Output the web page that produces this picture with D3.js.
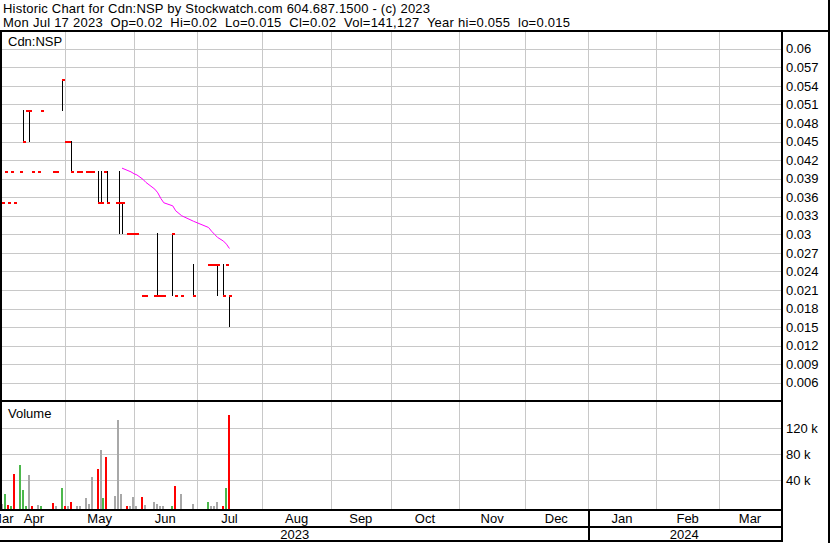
<!DOCTYPE html>
<html><head><meta charset="utf-8">
<script src="https://cdn.jsdelivr.net/npm/d3@7"></script>
<style>
html,body{margin:0;padding:0;background:#fff;}
svg{display:block;}
text{font-family:"Liberation Sans",Arial,sans-serif;font-size:13px;fill:#000;}
</style></head><body>
<svg id="c" width="830" height="543"></svg>
<script>
// ---------- data ----------
const dates = ["2023-03-31","2023-04-03","2023-04-04","2023-04-05","2023-04-06","2023-04-10","2023-04-11","2023-04-12","2023-04-13","2023-04-14","2023-04-18","2023-04-19","2023-04-25","2023-04-26","2023-04-28","2023-05-01","2023-05-02","2023-05-03","2023-05-05","2023-05-08","2023-05-10","2023-05-11","2023-05-12","2023-05-16","2023-05-17","2023-05-18","2023-05-19","2023-05-24","2023-05-25","2023-05-26","2023-05-30","2023-05-31","2023-06-01","2023-06-02","2023-06-06","2023-06-07","2023-06-12","2023-06-13","2023-06-14","2023-06-15","2023-06-20","2023-06-21","2023-06-23","2023-06-29","2023-07-06","2023-07-07","2023-07-10","2023-07-11","2023-07-13","2023-07-14","2023-07-17"];
const high  = [0.035,0.04,0.035,0.04,0.035,0.04,0.05,0.05,0.05,0.04,0.04,0.05,0.04,0.04,0.055,0.045,0.045,0.045,0.04,0.04,0.04,0.04,0.04,0.04,0.04,0.04,0.04,0.035,0.04,0.035,0.03,0.03,0.03,0.03,0.02,0.02,0.02,0.03,0.02,0.02,0.03,0.02,0.02,0.025,0.025,0.025,0.025,0.025,0.025,0.025,0.02];
const low   = [0.035,0.04,0.035,0.04,0.035,0.04,0.045,0.05,0.045,0.04,0.04,0.05,0.04,0.04,0.05,0.045,0.045,0.04,0.04,0.04,0.04,0.04,0.04,0.035,0.035,0.04,0.035,0.035,0.03,0.03,0.03,0.03,0.03,0.03,0.02,0.02,0.02,0.02,0.02,0.02,0.02,0.02,0.02,0.02,0.025,0.025,0.025,0.02,0.02,0.025,0.015];
const close = [0.035,0.04,0.035,0.04,0.035,0.04,0.045,0.05,0.05,0.04,0.04,0.05,0.04,0.04,0.055,0.045,0.045,0.04,0.04,0.04,0.04,0.04,0.04,0.035,0.035,0.04,0.035,0.035,0.035,0.035,0.03,0.03,0.03,0.03,0.02,0.02,0.02,0.02,0.02,0.02,0.03,0.02,0.02,0.02,0.025,0.025,0.025,0.025,0.02,0.025,0.02];
const volume = [3500,19000,2000,1000,50000,63500,25000,1000,48000,500,2000,1000,5000,1000,28000,1000,1000,6500,500,300,13000,3500,45000,57000,86500,13000,76000,16000,133000,19000,500,500,14000,500,14000,2000,6500,3500,500,1000,1000,31000,19000,3000,6500,500,1000,6500,1000,28000,141127];
const maDates = ["2023-05-26","2023-05-30","2023-05-31","2023-06-01","2023-06-02","2023-06-06","2023-06-07","2023-06-12","2023-06-13","2023-06-14","2023-06-15","2023-06-20","2023-06-21","2023-06-23","2023-06-29","2023-07-06","2023-07-07","2023-07-10","2023-07-11","2023-07-13","2023-07-14","2023-07-17"];
const maValues = [0.0407,0.0403,0.0401,0.0398,0.0396,0.0389,0.0384,0.0373,0.0367,0.0358,0.0351,0.0346,0.0338,0.0330,0.0321,0.0311,0.0305,0.0300,0.0295,0.0289,0.0284,0.0277];
const priceTicks = [0.006,0.009,0.012,0.015,0.018,0.021,0.024,0.027,0.03,0.033,0.036,0.039,0.042,0.045,0.048,0.051,0.054,0.057,0.06];
const volumeTicks = [40000,80000,120000];
const monthStarts = ["2023-03-01","2023-04-01","2023-05-01","2023-06-01","2023-07-01","2023-08-01","2023-09-01","2023-10-01","2023-11-01","2023-12-01","2024-01-01","2024-02-01","2024-03-01","2024-04-01"];
const monthLabels = ["Mar","Apr","May","Jun","Jul","Aug","Sep","Oct","Nov","Dec","Jan","Feb","Mar"];
const yearStarts = ["2023-01-01","2024-01-01","2025-01-01"];
const yearLabels = ["2023","2024"];
const header1 = "Historic Chart for Cdn:NSP by Stockwatch.com 604.687.1500 - (c) 2023";
const header2 = "Mon Jul 17 2023  Op=0.02  Hi=0.02  Lo=0.015  Cl=0.02  Vol=141,127  Year hi=0.055  lo=0.015";

// ---------- trading-slot scale (weekdays; weekends fall on prior Friday) ----------
function wd(s){
  const days = Math.floor(Date.parse(s+"T00:00:00Z")/86400000);
  const t = days + 3; const w = Math.floor(t/7); const r = t - 7*w;
  return w*5 + Math.min(r,4);
}
const ref = wd("2023-03-31");
const slot = s => wd(s) - ref;

const L = 2, R = 781;
const PT = 32, PB = 400, VT = 402, VB = 509;
const x = d3.scaleLinear().domain([0, slot("2024-03-29")]).range([2.6, 778.7]);
const y = d3.scaleLinear().domain([0.006, 0.06]).range([382.7, 48.8]);
const yv = d3.scaleLinear().domain([0, 120000]).range([506.3, 428.3]);

const svg = d3.select("#c").attr("shape-rendering","crispEdges");
const defs = svg.append("defs");
defs.append("clipPath").attr("id","cp").append("rect").attr("x",L).attr("y",PT).attr("width",R-L).attr("height",PB-PT);
defs.append("clipPath").attr("id","cv").append("rect").attr("x",L).attr("y",VT).attr("width",R-L).attr("height",VB-VT);

const grid = "#c8c8c8";
// month gridlines
const gx = monthStarts.map(m => x(slot(m))).filter(v => v > L+2 && v < R-1);
[[PT,PB],[VT,VB]].forEach(([t,b]) => {
  svg.append("g").selectAll("line").data(gx).join("line")
    .attr("x1",d=>Math.round(d)+0.5).attr("x2",d=>Math.round(d)+0.5)
    .attr("y1",t).attr("y2",b).attr("stroke",grid).attr("stroke-width",1);
});
// price gridlines
svg.append("g").selectAll("line").data(priceTicks).join("line")
  .attr("x1",L).attr("x2",R).attr("y1",d=>Math.round(y(d))+0.5).attr("y2",d=>Math.round(y(d))+0.5)
  .attr("stroke",grid).attr("stroke-width",1);
svg.append("g").selectAll("line").data(volumeTicks).join("line")
  .attr("x1",L).attr("x2",R).attr("y1",d=>Math.round(yv(d))+0.5).attr("y2",d=>Math.round(yv(d))+0.5)
  .attr("stroke",grid).attr("stroke-width",1);

// volume bars
const volColor = (i) => i===0 ? "#a8a8a8" : (close[i] > close[i-1] ? "#4cb84c" : (close[i] < close[i-1] ? "#ff0000" : "#a8a8a8"));
svg.append("g").attr("clip-path","url(#cv)").selectAll("rect").data(dates).join("rect")
  .attr("x",(d)=>Math.round(x(slot(d))-1.6))
  .attr("width",2)
  .attr("y",(d,i)=>Math.round(yv(volume[i])))
  .attr("height",(d,i)=>VB - Math.round(yv(volume[i])))
  .attr("fill",(d,i)=>volColor(i));

// moving average
svg.append("path").attr("clip-path","url(#cp)")
  .datum(maDates.map((d,i)=>[x(slot(d)), y(maValues[i])]))
  .attr("d", d3.line()).attr("fill","none").attr("stroke","#ff00ff").attr("stroke-width",1)
  .attr("shape-rendering","auto");

// price bars
const pg = svg.append("g").attr("clip-path","url(#cp)");
pg.selectAll("rect.hl").data(dates.map((d,i)=>i).filter(i=>high[i]>low[i])).join("rect")
  .attr("class","hl")
  .attr("x",i=>Math.round(x(slot(dates[i]))-0.5)).attr("width",1)
  .attr("y",i=>Math.round(y(high[i]))-1)
  .attr("height",i=>Math.round(y(low[i])) - Math.round(y(high[i])) + 1)
  .attr("fill","#000");
pg.selectAll("rect.cl").data(dates).join("rect")
  .attr("class","cl")
  .attr("x",d=>Math.round(x(slot(d))-0.5)).attr("width",3)
  .attr("y",(d,i)=>Math.round(y(close[i]))-1).attr("height",2)
  .attr("fill","#ff0000");

// frame lines
const blk = (x1,y1,x2,y2,w) => svg.append("line").attr("x1",x1).attr("y1",y1).attr("x2",x2).attr("y2",y2).attr("stroke","#000").attr("stroke-width",w||2);
blk(0,31,830,31);
blk(1,31,1,510);
blk(0,401,782,401);
blk(0,510,782,510);
blk(0,527,782,527);
blk(0,541,782,541);
blk(782,31,782,542);
blk(829,0,829,543);
const ySep = x(slot(yearStarts[1]));
blk(Math.round(ySep)+0.5,510,Math.round(ySep)+0.5,541);

// header texts
svg.append("text").attr("x",3).attr("y",13).attr("textLength",427).attr("lengthAdjust","spacing").text(header1);
svg.append("text").attr("x",3).attr("y",27).attr("textLength",567).attr("lengthAdjust","spacing").style("white-space","pre").text(header2);
svg.append("text").attr("x",8).attr("y",46).text("Cdn:NSP");
svg.append("text").attr("x",8).attr("y",418).text("Volume");

// right axes
const ax = svg.append("g").attr("transform",`translate(${R+2},0)`)
  .call(d3.axisRight(y).tickValues(priceTicks).tickSize(0).tickPadding(3).tickFormat(d=>String(+d.toFixed(3))));
const av = svg.append("g").attr("transform",`translate(${R+2},0)`)
  .call(d3.axisRight(yv).tickValues(volumeTicks).tickSize(0).tickPadding(3).tickFormat(d=>(d/1000)+" k"));
[ax,av].forEach(a=>{a.select(".domain").remove(); a.selectAll("text").attr("font-size",null).attr("font-family",null).style("font-size","13px").attr("fill","#000");});

// month labels
const ml = monthLabels.map((t,i)=>{
  const a = Math.max(L, x(slot(monthStarts[i]))), b = Math.min(R, x(slot(monthStarts[i+1])));
  return {t, c:(a+b)/2};
});
svg.append("g").selectAll("text").data(ml).join("text")
  .attr("x",d=>d.c).attr("y",523).attr("text-anchor","middle").text(d=>d.t);
const yl = yearLabels.map((t,i)=>{
  const a = Math.max(L, x(slot(yearStarts[i]))), b = Math.min(R, x(slot(yearStarts[i+1])));
  return {t, c:(a+b)/2};
});
svg.append("g").selectAll("text").data(yl).join("text")
  .attr("x",d=>d.c).attr("y",539).attr("text-anchor","middle").text(d=>d.t);
</script>
</body></html>
